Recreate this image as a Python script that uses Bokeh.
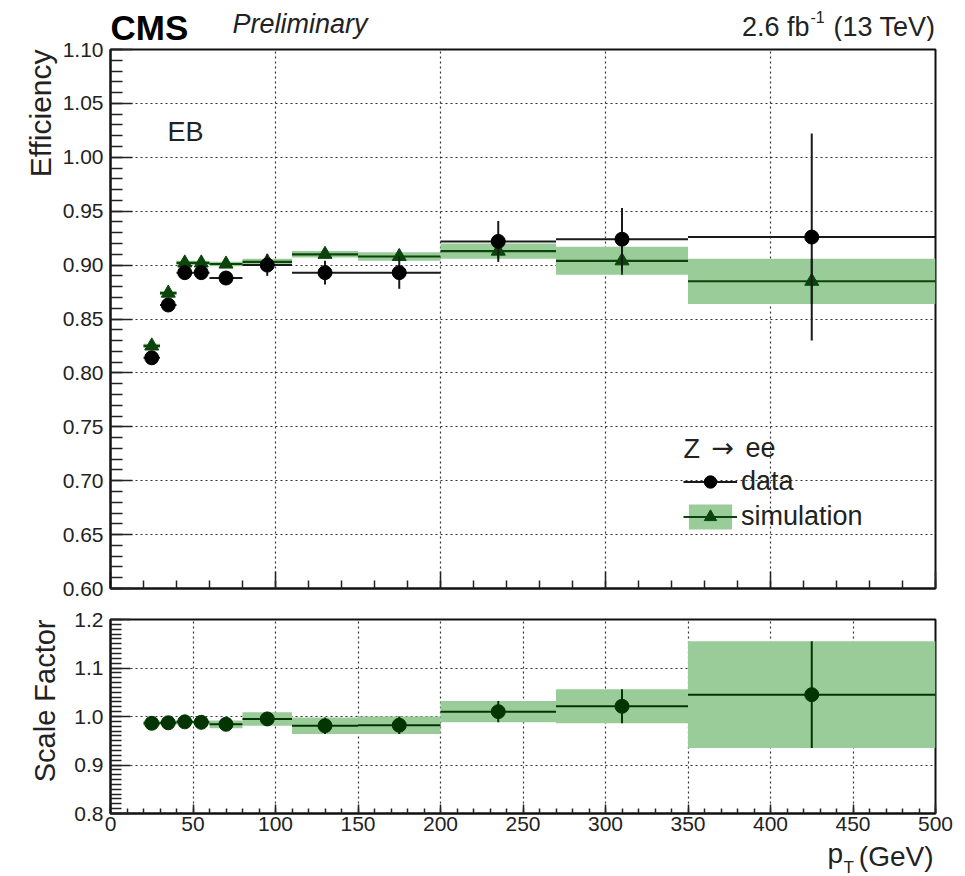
import numpy as np
from bokeh.plotting import figure
from bokeh.layouts import column
from bokeh.core.properties import value
from bokeh.models import (Range1d, FixedTicker, PrintfTickFormatter, Title,
                          Legend, LegendItem, ColumnDataSource)
from bokeh.embed import file_html
from bokeh.resources import INLINE

# ---- measurement: electron efficiency vs pT, barrel (EB) ----
bin_lo = [20, 30, 40, 50, 60, 80, 110, 150, 200, 270, 350]
bin_hi = [30, 40, 50, 60, 80, 110, 150, 200, 270, 350, 500]

data_eff = [0.814, 0.863, 0.893, 0.893, 0.888, 0.900, 0.893, 0.893, 0.922, 0.924, 0.926]
data_err = [0.006, 0.004, 0.004, 0.004, 0.004, 0.010, 0.011, 0.015, 0.019, 0.029, 0.096]

sim_eff = [0.825, 0.874, 0.902, 0.902, 0.901, 0.903, 0.910, 0.908, 0.913, 0.904, 0.885]
sim_err = [0.002, 0.002, 0.002, 0.002, 0.002, 0.003, 0.003, 0.004, 0.007, 0.013, 0.021]

sf_val = [0.986, 0.987, 0.989, 0.988, 0.984, 0.995, 0.981, 0.982, 1.010, 1.021, 1.045]
sf_err = [0.005, 0.004, 0.004, 0.004, 0.008, 0.014, 0.017, 0.018, 0.022, 0.035, 0.110]

# axis ticks
x_major_top = [0, 100, 200, 300, 400, 500]
x_minor_top = list(range(0, 501, 20))
x_major_bot = list(range(0, 501, 50))
x_minor_bot = list(range(0, 501, 10))
y_major_top = [round(0.60 + 0.05 * i, 2) for i in range(11)]
y_minor_top = [round(0.60 + 0.01 * i, 2) for i in range(51)]
y_major_bot = [0.8, 0.9, 1.0, 1.1, 1.2]
y_minor_bot = [round(0.80 + 0.01 * i, 2) for i in range(41)]

FONT = "Liberation Sans"
TXT = "#222222"
BAND = "#99cc99"
SIMC = "#0b450b"
SFC = "#023502"

# ---- page geometry (pixels) ----
W = 965
LEFT, RIGHT = 110, 30
FW = W - LEFT - RIGHT
HDR = 41
TOP1, FH1, BOT1 = 8, 539, 12
TOP2, FH2, BOT2 = 19, 194, 28
FTR = 876 - HDR - (TOP1 + FH1 + BOT1) - (TOP2 + FH2 + BOT2)
FOOT0 = 876 - FTR

X0, X1 = 0, 500
YA0, YA1 = 0.60, 1.10
YB0, YB1 = 0.80, 1.20


def ax_x(px):
    """page pixel column -> pT value"""
    return X0 + (px - LEFT) / FW * (X1 - X0)


def ax_ya(py):
    """page pixel row -> efficiency value (upper panel)"""
    return YA1 - (py - HDR - TOP1) / FH1 * (YA1 - YA0)


lo = np.array(bin_lo, float)
hi = np.array(bin_hi, float)
ctr = (lo + hi) / 2
d = np.array(data_eff)
de = np.array(data_err)
s = np.array(sim_eff)
se = np.array(sim_err)
f = np.array(sf_val)
fe = np.array(sf_err)

src = ColumnDataSource(dict(
    lo=lo, hi=hi, x=ctr,
    d=d, d_lo=d - de, d_hi=d + de,
    s=s, s_lo=s - se, s_hi=s + se,
    f=f, f_lo=f - fe, f_hi=f + fe,
))


def style(p, xmaj, xmin, ymaj, ymin, xfmt, yfmt, ytick, xtick, show_x):
    p.outline_line_color = "#111111"
    p.outline_line_width = 2
    p.background_fill_color = "white"
    p.border_fill_color = "white"
    for ax in (p.xaxis[0], p.yaxis[0]):
        ax.axis_line_color = "#111111"
        ax.axis_line_width = 2
        ax.major_tick_line_color = "#222222"
        ax.minor_tick_line_color = "#222222"
        ax.major_tick_line_width = 1.5
        ax.minor_tick_line_width = 1.5
        ax.major_tick_out = 0
        ax.minor_tick_out = 0
        ax.major_label_text_font = FONT
        ax.major_label_text_font_size = "21px"
        ax.major_label_text_color = TXT
    p.xaxis[0].ticker = FixedTicker(ticks=xmaj, minor_ticks=xmin)
    p.yaxis[0].ticker = FixedTicker(ticks=ymaj, minor_ticks=ymin)
    p.xaxis[0].formatter = PrintfTickFormatter(format=xfmt)
    p.yaxis[0].formatter = PrintfTickFormatter(format=yfmt)
    p.yaxis[0].major_tick_in, p.yaxis[0].minor_tick_in = ytick
    p.xaxis[0].major_tick_in, p.xaxis[0].minor_tick_in = xtick
    p.yaxis[0].major_label_standoff = 7
    p.xaxis[0].major_label_standoff = 3
    if not show_x:
        # ticks only, no numbers under the upper panel
        p.xaxis[0].major_label_overrides = {t: "" for t in xmaj}
        p.xaxis[0].major_label_text_font_size = "1px"
        p.xaxis[0].major_label_standoff = 0
    for g in (p.xgrid[0], p.ygrid[0]):
        g.grid_line_color = "#333333"
        g.grid_line_dash = "2 3"
        g.grid_line_width = 1.2


def side_title(p, text, size, standoff):
    p.add_layout(Title(text=text, align="right", text_font=FONT,
                       text_font_size=size, text_font_style="normal",
                       text_color=TXT, standoff=standoff), "left")


def text_strip(height):
    # a frameless strip whose x coordinates are page pixels (frames share 110..935)
    t = figure(width=W, height=height, output_backend="svg", toolbar_location=None,
               x_range=Range1d(LEFT, W - RIGHT), y_range=Range1d(height, 0),
               x_axis_location=None, y_axis_location=None,
               min_border_left=LEFT, min_border_right=RIGHT,
               min_border_top=0, min_border_bottom=0)
    t.outline_line_color = None
    t.grid.visible = False
    return t


def put(t, x, y, text, size, style="normal", align="left", color=TXT, font=FONT):
    t.text(x=[x], y=[y], text=[text], text_font=value(font), text_font_size=size,
           text_font_style=style, text_align=align, text_baseline="middle",
           text_color=color)


# ---------------- header line ----------------
hdr = text_strip(HDR)
put(hdr, 110, 27, "CMS", "35px", style="bold", color="black")
put(hdr, 232, 23, "Preliminary", "27px", style="italic")
put(hdr, 935, 26, "(13 TeV)", "27px", align="right")
put(hdr, 809, 26, "2.6 fb", "27px", align="right")
put(hdr, 810, 16, "-1", "16px")

# ---------------- efficiency panel ----------------
p1 = figure(width=W, height=TOP1 + FH1 + BOT1, output_backend="svg",
            toolbar_location=None,
            x_range=Range1d(X0, X1), y_range=Range1d(YA0, YA1),
            min_border_left=LEFT, min_border_right=RIGHT,
            min_border_top=TOP1, min_border_bottom=BOT1)
style(p1, x_major_top, x_minor_top, y_major_top, y_minor_top, "%d", "%.2f",
      (22, 12), (17, 8), False)
p1.xgrid[0].ticker = FixedTicker(ticks=x_major_top[1:-1])
p1.ygrid[0].ticker = FixedTicker(ticks=y_major_top[1:-1])
side_title(p1, "Efficiency", "30px", 5)

band = p1.quad(left="lo", right="hi", bottom="s_lo", top="s_hi", source=src,
               fill_color=BAND, line_color=None)
sim_h = p1.segment(x0="lo", x1="hi", y0="s", y1="s", source=src,
                   line_color=SIMC, line_width=2.2)
p1.segment(x0="x", x1="x", y0="s_lo", y1="s_hi", source=src,
           line_color=SIMC, line_width=2)
sim_m = p1.scatter(x="x", y="s", source=src, marker="triangle", size=14,
                   fill_color=SIMC, line_color=SIMC)
data_h = p1.segment(x0="lo", x1="hi", y0="d", y1="d", source=src,
                    line_color="#1a1a1a", line_width=2)
p1.segment(x0="x", x1="x", y0="d_lo", y1="d_hi", source=src,
           line_color="#1a1a1a", line_width=2)
data_m = p1.scatter(x="x", y="d", source=src, marker="circle", size=14,
                    fill_color="black", line_color="black")

p1.add_layout(Legend(
    items=[LegendItem(label="data", renderers=[data_h, data_m]),
           LegendItem(label="simulation", renderers=[band, sim_h, sim_m])],
    location=(573, 56),
    border_line_color=None, background_fill_alpha=0,
    padding=0, margin=0, spacing=4, glyph_width=54, glyph_height=31,
    label_standoff=4,
    label_text_font=FONT, label_text_font_size="27px", label_text_color=TXT))

# legend header and region tag
put(p1, ax_x(683), ax_ya(448), "Z", "27px")
put(p1, ax_x(711), ax_ya(447), "\u2192", "27px", font="DejaVu Sans")
put(p1, ax_x(745), ax_ya(447), "ee", "27px")
put(p1, ax_x(167), ax_ya(131), "EB", "27px")

# ---------------- scale factor panel ----------------
p2 = figure(width=W, height=TOP2 + FH2 + BOT2, output_backend="svg",
            toolbar_location=None,
            x_range=Range1d(X0, X1), y_range=Range1d(YB0, YB1),
            min_border_left=LEFT, min_border_right=RIGHT,
            min_border_top=TOP2, min_border_bottom=BOT2)
style(p2, x_major_bot, x_minor_bot, y_major_bot, y_minor_bot, "%d", "%.1f",
      (20, 11), (9, 5), True)
p2.xgrid[0].ticker = FixedTicker(ticks=x_major_bot[1:-1])
p2.ygrid[0].ticker = FixedTicker(ticks=y_major_bot[1:-1])
side_title(p2, "Scale Factor", "29px", 22)

p2.quad(left="lo", right="hi", bottom="f_lo", top="f_hi", source=src,
        fill_color=BAND, line_color=None)
p2.segment(x0="lo", x1="hi", y0="f", y1="f", source=src,
           line_color=SFC, line_width=2)
p2.segment(x0="x", x1="x", y0="f_lo", y1="f_hi", source=src,
           line_color=SFC, line_width=2)
p2.scatter(x="x", y="f", source=src, marker="circle", size=14,
           fill_color=SFC, line_color=SFC)

# ---------------- x-axis title line ----------------
ftr = text_strip(FTR)
put(ftr, 933, 856 - FOOT0, "(GeV)", "28px", align="right")
put(ftr, 827, 853 - FOOT0, "p", "28px")
put(ftr, 843, 867 - FOOT0, "T", "17px")

layout = column(hdr, p1, p2, ftr, spacing=0)
open("out.html", "w").write(file_html(layout, INLINE))
